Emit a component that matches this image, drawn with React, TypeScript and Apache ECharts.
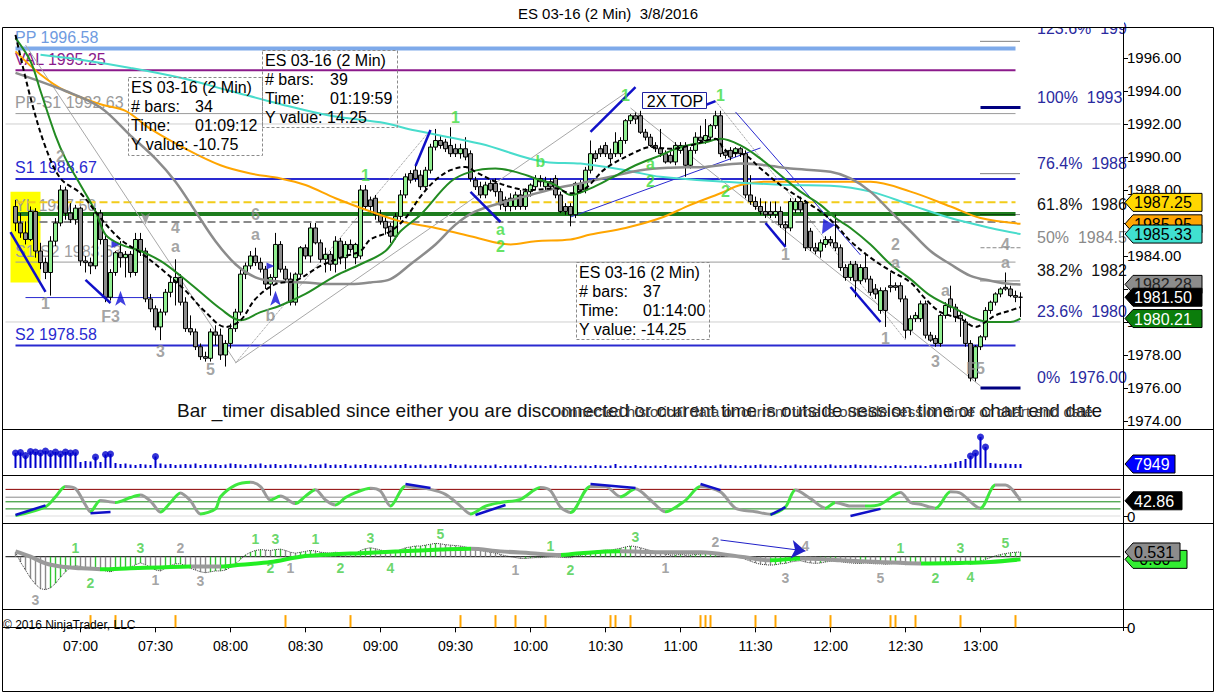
import { useEffect, useRef } from "react";
import * as echarts from "echarts";

const FONT = '"Liberation Sans", Arial, sans-serif';

// 2-minute bars; k = bar offset from the 07:00 bar (k = -13 is 06:34)
const FIRST_BAR = -13;
const CAT_FROM = -15; // 06:30
const CAT_TO = 208; // 13:56

const timeTicks = ["07:00", "07:30", "08:00", "08:30", "09:00", "09:30", "10:00", "10:30", "11:00", "11:30", "12:00", "12:30", "13:00"];
const priceTicks = [1974, 1976, 1978, 1980, 1982, 1984, 1986, 1988, 1990, 1992, 1994, 1996];

// [open, high, low, close]  k = -13 .. 188
const bars = [
  [1987.0, 1987.4, 1985.5, 1986.0], [1986.0, 1986.6, 1985.1, 1985.4], [1985.4, 1986.1, 1984.7, 1985.0], [1985.0, 1987.0, 1984.9, 1986.7],
  [1986.7, 1986.9, 1983.9, 1984.3], [1984.3, 1984.8, 1983.2, 1983.6], [1983.6, 1983.9, 1982.6, 1983.0], [1983.0, 1985.2, 1981.6, 1984.9],
  [1984.9, 1986.3, 1984.6, 1986.0], [1986.0, 1988.3, 1985.8, 1988.0], [1988.0, 1988.2, 1986.2, 1986.6], [1986.6, 1987.2, 1986.0, 1986.2],
  [1986.2, 1987.1, 1985.9, 1986.9],
  [1986.9, 1987.0, 1983.4, 1983.7], [1983.7, 1984.0, 1983.0, 1983.6], [1983.6, 1983.9, 1982.9, 1983.4], [1983.4, 1986.9, 1983.2, 1986.6],
  [1986.6, 1986.8, 1984.7, 1985.0], [1985.0, 1985.3, 1981.2, 1981.5], [1981.5, 1983.2, 1981.3, 1983.0], [1983.0, 1984.3, 1982.8, 1984.2],
  [1984.2, 1984.9, 1983.3, 1983.9], [1983.9, 1984.3, 1982.7, 1984.1], [1984.1, 1984.3, 1982.7, 1983.0], [1983.0, 1985.4, 1982.8, 1985.0],
  [1985.0, 1985.4, 1984.0, 1984.3], [1984.3, 1984.5, 1981.2, 1981.4], [1981.4, 1981.7, 1980.6, 1980.8], [1980.8, 1981.0, 1979.5, 1979.7],
  [1979.7, 1980.8, 1978.9, 1980.6], [1980.6, 1982.0, 1980.4, 1981.8], [1981.8, 1982.8, 1981.5, 1982.4], [1982.4, 1983.8, 1981.0, 1982.7],
  [1982.7, 1982.9, 1981.0, 1981.2], [1981.2, 1981.5, 1979.4, 1979.6], [1979.6, 1980.4, 1979.2, 1979.4], [1979.4, 1979.6, 1978.3, 1978.5],
  [1978.5, 1978.7, 1977.7, 1977.9], [1977.9, 1978.2, 1977.6, 1977.8], [1977.8, 1979.6, 1977.6, 1979.4], [1979.4, 1979.8, 1978.6, 1979.2],
  [1979.2, 1979.6, 1977.7, 1978.0], [1978.0, 1978.9, 1977.3, 1978.7], [1978.7, 1979.9, 1978.4, 1979.6], [1979.6, 1980.8, 1979.4, 1980.6],
  [1980.6, 1983.2, 1980.4, 1982.9], [1982.9, 1983.6, 1982.6, 1983.4], [1983.4, 1984.3, 1983.2, 1984.0], [1984.0, 1984.5, 1983.4, 1983.6],
  [1983.6, 1983.9, 1983.0, 1983.2], [1983.2, 1983.4, 1982.0, 1982.3], [1982.3, 1982.9, 1981.6, 1982.7], [1982.7, 1985.4, 1982.4, 1984.7],
  [1984.7, 1984.9, 1983.0, 1983.2], [1983.2, 1983.4, 1982.4, 1982.6], [1982.6, 1983.0, 1981.0, 1981.2], [1981.2, 1983.0, 1981.0, 1982.9],
  [1982.9, 1984.6, 1982.7, 1984.5], [1984.5, 1984.7, 1983.8, 1984.0], [1984.0, 1986.0, 1983.6, 1985.7], [1985.7, 1986.0, 1984.7, 1984.8],
  [1984.8, 1985.0, 1983.6, 1983.8], [1983.8, 1984.5, 1983.0, 1984.1], [1984.1, 1984.3, 1983.1, 1983.5], [1983.5, 1985.2, 1983.0, 1984.9],
  [1984.9, 1985.1, 1983.5, 1983.9], [1983.9, 1984.9, 1983.2, 1984.7], [1984.7, 1985.0, 1984.2, 1984.4], [1983.9, 1984.8, 1983.5, 1984.7],
  [1984.0, 1988.3, 1983.8, 1988.0], [1988.0, 1988.3, 1986.8, 1987.0], [1987.4, 1987.6, 1986.6, 1987.0], [1987.5, 1987.7, 1986.2, 1986.5],
  [1986.5, 1986.8, 1985.9, 1986.1], [1986.1, 1986.4, 1985.3, 1985.7], [1985.8, 1986.0, 1984.8, 1985.2], [1985.2, 1986.6, 1985.0, 1986.4],
  [1986.4, 1988.0, 1986.2, 1987.7], [1987.7, 1989.0, 1987.5, 1988.8], [1989.0, 1989.2, 1988.4, 1988.6], [1989.2, 1989.5, 1988.5, 1988.7],
  [1988.9, 1989.2, 1988.0, 1988.2], [1988.2, 1989.4, 1988.0, 1989.2], [1989.2, 1990.8, 1989.0, 1990.6], [1990.6, 1991.7, 1990.4, 1991.0],
  [1991.0, 1991.3, 1990.5, 1990.7], [1990.9, 1991.1, 1990.3, 1990.5], [1990.7, 1991.8, 1990.0, 1990.2], [1990.5, 1990.8, 1990.0, 1990.2],
  [1990.2, 1990.8, 1989.9, 1990.5], [1990.5, 1991.2, 1989.8, 1990.0], [1990.2, 1990.4, 1988.5, 1988.7], [1988.6, 1988.8, 1988.0, 1988.2],
  [1988.2, 1988.5, 1987.5, 1987.7], [1987.7, 1988.5, 1987.5, 1988.3], [1988.4, 1988.6, 1987.9, 1988.0], [1988.4, 1988.7, 1987.6, 1987.9],
  [1987.9, 1988.1, 1986.8, 1987.1], [1987.4, 1987.6, 1986.7, 1987.0], [1987.0, 1987.8, 1986.7, 1987.5], [1987.0, 1987.9, 1986.8, 1987.7],
  [1987.7, 1988.0, 1986.8, 1987.0], [1987.0, 1988.1, 1986.8, 1987.9], [1987.9, 1988.4, 1987.6, 1988.3], [1988.2, 1988.9, 1988.0, 1988.7],
  [1988.7, 1988.9, 1988.2, 1988.5], [1988.2, 1988.8, 1987.9, 1988.5], [1988.5, 1988.7, 1988.0, 1988.2], [1988.7, 1988.9, 1987.5, 1987.7],
  [1987.7, 1987.9, 1986.6, 1986.7], [1987.0, 1987.2, 1986.5, 1986.7], [1987.0, 1987.2, 1985.8, 1986.5], [1986.5, 1988.5, 1986.3, 1988.4],
  [1988.4, 1988.6, 1987.8, 1988.0], [1988.0, 1989.4, 1987.8, 1989.2], [1989.2, 1991.0, 1989.0, 1990.2], [1990.2, 1990.4, 1989.7, 1989.9],
  [1990.5, 1990.7, 1990.0, 1990.2], [1990.7, 1990.9, 1990.0, 1990.2], [1990.2, 1990.5, 1989.6, 1989.9], [1990.2, 1991.5, 1990.0, 1990.9],
  [1990.2, 1991.2, 1990.0, 1991.0], [1991.0, 1992.3, 1990.8, 1992.2], [1992.2, 1992.6, 1992.0, 1992.5], [1992.5, 1992.7, 1992.0, 1992.3],
  [1992.5, 1992.8, 1991.4, 1991.5], [1991.5, 1991.7, 1991.0, 1991.2], [1991.2, 1991.4, 1990.6, 1990.7], [1990.7, 1990.9, 1990.3, 1990.5],
  [1990.5, 1991.7, 1990.0, 1990.2], [1990.2, 1990.4, 1989.6, 1989.7], [1990.1, 1990.3, 1989.6, 1989.7], [1989.7, 1990.9, 1989.5, 1990.7],
  [1990.4, 1990.9, 1990.2, 1990.7], [1990.7, 1990.9, 1988.8, 1989.5], [1989.5, 1990.6, 1989.3, 1990.4], [1990.4, 1991.5, 1990.2, 1991.2],
  [1991.2, 1991.9, 1990.9, 1991.0], [1991.0, 1992.3, 1990.8, 1991.3], [1991.2, 1992.0, 1991.0, 1991.9], [1991.9, 1992.8, 1991.7, 1992.5],
  [1992.5, 1992.8, 1990.0, 1990.2], [1990.3, 1990.5, 1989.9, 1990.1], [1990.4, 1990.6, 1989.8, 1990.0], [1990.2, 1990.6, 1990.0, 1990.5],
  [1990.5, 1990.6, 1990.0, 1990.2], [1990.2, 1990.4, 1987.5, 1987.7], [1987.7, 1988.9, 1987.1, 1987.3], [1987.3, 1987.6, 1986.8, 1987.0],
  [1987.0, 1987.5, 1986.5, 1986.7], [1986.7, 1987.3, 1986.3, 1986.5], [1986.7, 1987.3, 1986.3, 1986.5], [1986.5, 1987.3, 1986.3, 1986.7],
  [1986.7, 1987.0, 1985.7, 1985.9], [1985.9, 1986.1, 1984.6, 1985.7], [1985.7, 1987.5, 1985.5, 1987.3], [1986.8, 1987.5, 1986.6, 1987.3],
  [1987.3, 1987.6, 1986.6, 1986.8], [1987.2, 1987.4, 1984.3, 1984.5], [1985.5, 1985.7, 1984.3, 1984.5], [1984.5, 1984.8, 1984.1, 1984.3],
  [1984.3, 1985.0, 1983.9, 1984.8], [1984.7, 1985.2, 1984.5, 1985.0], [1985.0, 1985.2, 1984.6, 1984.8], [1984.8, 1986.5, 1984.3, 1984.5],
  [1984.5, 1984.7, 1983.1, 1983.3], [1983.3, 1983.5, 1982.5, 1982.7], [1982.7, 1983.7, 1982.5, 1983.5], [1983.5, 1983.7, 1981.5, 1982.5],
  [1982.5, 1983.5, 1982.3, 1983.3], [1983.3, 1984.2, 1982.4, 1982.6], [1982.6, 1982.8, 1981.6, 1981.8], [1982.0, 1982.3, 1981.4, 1981.7],
  [1980.7, 1982.1, 1980.5, 1981.9], [1981.9, 1982.1, 1979.7, 1980.7], [1982.2, 1983.0, 1981.8, 1982.1], [1982.2, 1982.4, 1981.9, 1982.1],
  [1982.2, 1982.4, 1981.2, 1981.4], [1981.4, 1981.6, 1979.0, 1979.5], [1979.5, 1980.4, 1979.2, 1980.2], [1980.2, 1980.6, 1980.0, 1980.4],
  [1980.2, 1981.3, 1980.0, 1981.1], [1981.1, 1981.3, 1979.0, 1979.2], [1979.2, 1979.4, 1978.8, 1978.9], [1979.0, 1979.2, 1978.5, 1978.7],
  [1978.7, 1980.5, 1978.5, 1980.4], [1980.4, 1981.2, 1980.2, 1981.0], [1981.4, 1982.2, 1980.6, 1980.9], [1980.9, 1981.1, 1980.0, 1980.3],
  [1980.4, 1980.6, 1979.1, 1980.2], [1980.0, 1980.2, 1978.5, 1978.7], [1978.7, 1978.9, 1976.4, 1976.6], [1976.6, 1978.6, 1976.4, 1978.5],
  [1978.5, 1979.2, 1978.3, 1979.1], [1979.1, 1980.9, 1978.9, 1980.7], [1980.7, 1981.3, 1980.5, 1981.2], [1981.2, 1981.8, 1981.0, 1981.7],
  [1981.7, 1982.1, 1981.5, 1982.0], [1982.1, 1983.0, 1981.9, 1982.0], [1982.0, 1982.2, 1981.5, 1981.6], [1981.6, 1981.9, 1981.2, 1981.5],
  [1981.5, 1981.8, 1980.3, 1981.5],
];

// volume in thousands, k = -13 .. 188
const volumeK = [
  30, 31, 25, 33, 32, 30, 34, 29, 32, 28, 32, 30, 31,
  12, 14, 13, 22, 12, 27, 28, 10, 8, 9, 7,
  6, 8, 7, 6, 23, 9, 7, 8, 6, 7,
  8, 7, 9, 6, 8, 7, 8, 6, 7, 9, 8, 7, 6, 8, 7, 9, 6, 7, 8, 6, 7, 8, 6, 7, 5, 8, 6, 7, 9, 6, 7, 6, 8, 5, 7, 6, 8, 6, 7, 5,
  6, 5, 7, 6, 8, 5, 6, 7, 5, 6, 7, 6, 5, 8, 6, 5, 7, 5, 6, 5, 6, 5, 7, 4, 6, 5, 6, 5, 7, 4, 6, 5, 4, 6, 5, 4, 6, 5, 4, 5,
  5, 4, 6, 5, 4, 5, 8, 4, 5, 4, 6, 4, 5, 4, 5, 4, 6, 4, 5, 4, 5, 4, 6, 4, 5, 4, 5, 7, 5, 6, 5, 4, 6, 5, 6, 7, 5, 6, 5, 4,
  6, 5, 7, 5, 6, 5, 6, 5, 6, 7, 5, 6, 5, 6, 7, 6, 5, 6, 5, 4, 5, 4, 6, 5, 4, 5, 6, 5, 4, 6, 7, 6, 8, 9,
  12, 14, 18, 24, 30, 62, 42, 10, 9, 8, 9, 8, 8, 7.949,
];

// oscillator histogram, k = -13 .. 188
const macdHist = [
  0.5, -0.6, -1.5, -2.4, -3.1, -3.6, -3.7, -3.5, -3.0, -2.3, -1.7, -1.2, -1.0,
  -1.1, -1.3, -1.4, -1.2, -1.3, -1.6, -1.7, -1.5, -1.4, -1.3,
  -1.2, -0.9, -0.7, -0.9, -1.2, -1.5, -1.6, -1.3, -1.0, -0.8,
  -0.8, -1.0, -1.3, -1.5, -1.7, -1.8, -1.7, -1.6, -1.6, -1.5,
  -1.2, -0.8, -0.3, 0.2, 0.5, 0.7, 0.8, 0.75, 0.7, 0.8,
  0.85, 0.7, 0.5, 0.4, 0.5, 0.6, 0.7, 0.65, 0.5, 0.45,
  0.4, 0.5, 0.45, 0.4, 0.35, 0.35, 0.7, 0.9, 1.0, 0.9,
  0.75, 0.6, 0.55, 0.6, 0.8, 1.0, 1.1, 1.2, 1.2, 1.3,
  1.4, 1.5, 1.45, 1.35, 1.3, 1.25, 1.2, 1.1, 0.95, 0.8,
  0.7, 0.6, 0.5, 0.4, 0.25, 0.1, 0.0, -0.1, -0.2, -0.2,
  -0.15, -0.1, -0.1, -0.05, 0.0, 0.0, -0.05, -0.1, -0.1, 0.05,
  0.15, 0.3, 0.5, 0.6, 0.7, 0.75, 0.75, 0.85, 0.95, 1.1,
  1.2, 1.15, 1.0, 0.85, 0.7, 0.55, 0.45, 0.3, 0.2, 0.2,
  0.25, 0.2, 0.2, 0.25, 0.3, 0.35, 0.4, 0.45, 0.3, 0.2,
  0.1, 0.05, 0.0, -0.3, -0.5, -0.7, -0.85, -0.9, -0.95, -0.9,
  -0.8, -0.75, -0.6, -0.5, -0.45, -0.6, -0.7, -0.75, -0.7, -0.6,
  -0.5, -0.45, -0.55, -0.65, -0.7, -0.75, -0.75, -0.7, -0.75, -0.8,
  -0.8, -0.85, -0.8, -0.75, -0.8, -0.9, -0.85, -0.75, -0.65, -0.7,
  -0.8, -0.85, -0.7, -0.55, -0.5, -0.55, -0.6, -0.7, -0.85, -0.7,
  -0.5, -0.3, -0.1, 0.1, 0.25, 0.35, 0.45, 0.5, 0.531,
];

// [k, value] readings of the indicator lines
const macdSignal = [[-13, 0.6], [-10, 0.0], [-7, -0.75], [-4, -1.1], [0, -1.3], [4, -1.4], [10, -1.3], [16, -1.2], [22, -1.1], [28, -1.1], [32, -0.9], [38, -0.6], [44, 0.0], [50, 0.25], [56, 0.4], [64, 0.6], [72, 0.8], [78, 0.9], [84, 0.6], [90, 0.4], [96, 0.2], [100, 0.4], [108, 0.6], [116, 0.5], [124, 0.5], [132, 0.0], [138, -0.4], [144, -0.2], [152, -0.4], [160, -0.6], [168, -0.75], [176, -0.7], [182, -0.6], [188, -0.3]];
const stoch = [[-13, 1], [-7, 26], [-5, 54], [-3, 83], [-1, 77], [1, 31], [2, 12], [4, 44], [7, 38], [10, 52], [12, 59], [14, 42], [16, 11], [18, 38], [20, 65], [22, 43], [24, 6], [27, 20], [28, 54], [31, 87], [34, 95], [36, 83], [38, 45], [40, 56], [43, 35], [45, 56], [47, 74], [49, 45], [51, 31], [53, 52], [55, 66], [58, 78], [60, 70], [62, 28], [65, 84], [67, 80], [70, 75], [73, 61], [76, 28], [78, 6], [81, 28], [84, 38], [88, 47], [92, 80], [94, 71], [96, 25], [98, 10], [102, 83], [105, 83], [108, 54], [111, 77], [114, 45], [117, 12], [121, 44], [124, 83], [128, 68], [131, 22], [135, 12], [138, 5], [141, 26], [143, 73], [146, 49], [149, 22], [151, 38], [154, 28], [157, 28], [160, 33], [164, 66], [166, 38], [168, 33], [171, 22], [174, 68], [176, 64], [179, 28], [180, 22], [183, 87], [185, 87], [188, 42.86]];
const fastMa = [[-13, 1997.4], [-10, 1993.6], [-7, 1990.6], [-4, 1988.7], [0, 1987.8], [4, 1986.3], [8, 1985.0], [12, 1984.2], [17, 1983.0], [21, 1981.9], [25, 1980.6], [29, 1979.7], [32, 1980.1], [35, 1981.4], [39, 1982.3], [43, 1982.5], [48, 1983.4], [53, 1984.0], [56, 1984.3], [58, 1985.0], [62, 1985.5], [65, 1986.3], [68, 1987.6], [71, 1988.6], [74, 1989.2], [77, 1989.4], [79, 1989.1], [83, 1988.5], [87, 1988.1], [90, 1988.0], [95, 1988.1], [98, 1987.8], [101, 1988.1], [105, 1989.3], [111, 1990.3], [114, 1990.6], [118, 1990.5], [122, 1990.7], [127, 1991.1], [129, 1990.4], [133, 1990.1], [136, 1989.3], [140, 1988.3], [144, 1987.5], [148, 1986.7], [151, 1985.9], [154, 1984.9], [158, 1983.9], [162, 1983.1], [166, 1982.4], [169, 1981.4], [172, 1980.6], [176, 1980.2], [179, 1979.7], [181, 1980.0], [183, 1980.4], [186, 1980.7], [188, 1980.9]];
const slowMa = [[-13, 1997.2], [-10, 1995.8], [-8, 1994.0], [-5, 1991.3], [-3, 1989.9], [0, 1988.3], [3, 1986.7], [5, 1985.3], [8, 1984.7], [12, 1984.3], [16, 1983.7], [20, 1982.8], [24, 1981.8], [28, 1980.8], [32, 1980.1], [36, 1980.6], [40, 1981.0], [45, 1981.7], [51, 1982.8], [56, 1983.5], [61, 1984.3], [64, 1985.5], [68, 1986.5], [74, 1988.5], [78, 1989.1], [83, 1989.3], [87, 1989.1], [91, 1988.7], [95, 1988.3], [98, 1987.7], [102, 1988.1], [106, 1988.7], [111, 1989.5], [116, 1990.1], [120, 1990.6], [125, 1990.9], [128, 1991.1], [132, 1990.7], [136, 1989.9], [140, 1988.9], [144, 1987.9], [148, 1987.1], [151, 1986.3], [154, 1985.7], [158, 1984.7], [162, 1983.5], [166, 1982.6], [170, 1981.6], [175, 1980.8], [179, 1980.2], [182, 1980.0], [186, 1980.0], [188, 1980.21]];
const smaLine = [[-13, 1995.1], [-3, 1994.0], [4, 1993.0], [10, 1991.3], [15, 1989.9], [19, 1988.5], [23, 1986.7], [27, 1984.9], [31, 1983.5], [35, 1982.7], [38, 1982.5], [45, 1982.4], [50, 1982.3], [54, 1982.3], [58, 1982.4], [62, 1982.6], [66, 1983.5], [71, 1984.7], [75, 1985.9], [79, 1986.7], [85, 1987.3], [90, 1987.7], [95, 1988.1], [100, 1988.4], [106, 1988.8], [112, 1989.2], [118, 1989.35], [125, 1989.4], [132, 1989.6], [137, 1989.5], [142, 1989.3], [150, 1989.1], [154, 1988.7], [158, 1987.9], [162, 1986.7], [166, 1985.5], [170, 1984.3], [174, 1983.5], [178, 1982.8], [182, 1982.5], [186, 1982.3], [188, 1982.28]];
const cyanMa = [[-8, 1996.2], [0, 1995.9], [10, 1995.4], [20, 1994.8], [30, 1994.0], [40, 1993.2], [50, 1992.5], [60, 1992.1], [67, 1991.6], [80, 1990.8], [93, 1989.7], [100, 1989.6], [109, 1989.2], [116, 1988.8], [129, 1988.5], [142, 1988.3], [150, 1988.25], [158, 1987.9], [166, 1987.1], [174, 1986.3], [182, 1985.7], [188, 1985.33]];
const orangeMa = [[-13, 1996.4], [-8, 1995.0], [-3, 1994.0], [4, 1993.2], [9, 1992.8], [14, 1991.7], [21, 1990.5], [28, 1989.5], [34, 1989.0], [40, 1988.7], [45, 1988.3], [51, 1987.5], [58, 1986.7], [64, 1986.1], [71, 1985.7], [78, 1985.2], [86, 1984.7], [91, 1984.9], [98, 1985.0], [102, 1985.3], [109, 1985.7], [116, 1986.3], [122, 1987.1], [128, 1987.8], [132, 1988.3], [137, 1988.5], [144, 1988.5], [152, 1988.5], [158, 1988.5], [166, 1987.9], [174, 1987.0], [180, 1986.3], [188, 1985.95]];

// bars carrying an orange signal tick in the bottom panel
const signalBars = [2, 7, 19, 41, 54, 76, 83, 87, 93, 106, 107, 110, 124, 125, 126, 135, 139, 150, 162, 163, 167, 176, 187];

const levels = [
  { label: "PP 1996.58", value: 1996.58, color: "#7eaaea", text: "#6f9be0", width: 4, type: "solid" },
  { label: "VAL 1995.25", value: 1995.25, color: "#8b1a8b", text: "#8b1a8b", width: 2, type: "solid" },
  { label: "PP-S1 1992.63", value: 1992.63, color: "#9a9a9a", text: "#9a9a9a", width: 1, type: "solid" },
  { label: "S1 1988.67", value: 1988.67, color: "#2a2ad0", text: "#2a2ad0", width: 2, type: "solid" },
  { label: "YL 1987.50", value: 1987.25, color: "#f2cc1a", text: "#9a9a9a", width: 2, type: "dashed" },
  { label: "", value: 1986.55, color: "#1e7d1e", text: "#1e7d1e", width: 4, type: "solid" },
  { label: "", value: 1986.06, color: "#8a8a8a", text: "#8a8a8a", width: 2, type: "dashed" },
  { label: "S1-S2 1983.63", value: 1983.63, color: "#9a9a9a", text: "#a0a0a0", width: 1, type: "solid" },
  { label: "S2 1978.58", value: 1978.58, color: "#2a2ad0", text: "#2a2ad0", width: 2, type: "solid" },
];
const gridPrices = [1992.0, 1980.0];
const fibs = [
  { text: "123.6%  199", value: 1997.01, color: "#2a2aa0", line: "#000", width: 1, type: "dotted" },
  { text: "100%  1993", value: 1993.0, color: "#2a2aa0", line: "#000080", width: 3, type: "solid" },
  { text: "76.4%  1988", value: 1988.99, color: "#2a2aa0", line: "#000", width: 1, type: "dotted" },
  { text: "61.8%  1986", value: 1986.51, color: "#111", line: "#000", width: 1, type: "dotted" },
  { text: "50%  1984.5", value: 1984.5, color: "#8a8a8a", line: "#888", width: 1, type: "dashed" },
  { text: "38.2%  1982", value: 1982.49, color: "#111", line: "#000", width: 1, type: "dotted" },
  { text: "23.6%  1980", value: 1980.01, color: "#2a2aa0", line: "#2020c0", width: 1, type: "dotted" },
  { text: "0%  1976.00", value: 1976.0, color: "#2a2aa0", line: "#000080", width: 3, type: "solid" },
];
const priceFlags = [
  { value: 1987.25, fill: "#ffd700", text: "#000" },
  { value: 1985.95, fill: "#ffa500", text: "#000" },
  { value: 1985.33, fill: "#40e0d0", text: "#000" },
  { value: 1982.28, fill: "#8c8c8c", text: "#222" },
  { value: 1981.5, fill: "#000000", text: "#fff" },
  { value: 1980.21, fill: "#0b7d0b", text: "#fff" },
];
// trend annotations: [k1, price1, k2, price2]
const blueThick = [[-14.5, 1985.45, -6.7, 1981.82], [1.3, 1982.55, 6.3, 1981.15], [66.5, 1989.45, 70.3, 1991.64], [78.3, 1987.88, 83.9, 1986.06], [102.3, 1991.52, 110.9, 1994.24], [123.5, 1993.03, 127.3, 1993.39], [137.3, 1986.0, 141.3, 1984.55], [153.7, 1982.12, 159.9, 1980.0]];
const blueThin = [[-11, 1981.48, 17, 1981.48], [97.9, 1986.36, 135.9, 1990.55], [131.3, 1992.73, 156, 1984.06]];
const greyThin = [[-10.7, 1996.79, 30.5, 1977.58], [30.9, 1977.52, 108.9, 1993.88], [109.5, 1992.97, 179.9, 1976.12]];
const greyDotted = [[30.9, 1977.52, 70.3, 1991.64], [127.3, 1993.39, 164.9, 1978.91]];
const stochDivergence = [[-13, 3, -7, 30], [1.5, 8, 6.3, 11], [65.3, 90, 70.3, 79], [78.5, 3, 84.5, 31], [102, 90, 111, 79], [123.5, 90, 127.5, 73], [137.5, 3, 141.3, 25], [153.9, 0, 160.3, 20]];
const stochLevels = [{ v: 75, c: "#8b0000" }, { v: 53, c: "#8a8a8a" }, { v: 40, c: "#118811" }, { v: 20, c: "#118811" }, { v: 0, c: "#dddddd" }];

const waveGrey = [[-4.1, 1990.0, "2"], [-6.9, 1981.15, "1"], [6.3, 1980.36, "F3"], [19.1, 1985.7, "4"], [19.1, 1984.6, "a"], [16.1, 1978.2, "3"], [26.1, 1977.1, "5"], [35.1, 1986.5, "6"], [35.1, 1985.3, "a"], [38.3, 1980.4, "b"], [141.1, 1984.1, "1"], [163.3, 1984.7, "2"], [163.3, 1983.6, "a"], [173.1, 1981.9, "a"], [161.1, 1979.0, "1"], [171.3, 1977.6, "3"], [178.9, 1977.2, "F5"], [185.1, 1984.7, "4"], [185.1, 1983.6, "a"]];
const waveGreen = [[74.5, 1992.4, "1"], [57.3, 1988.85, "1"], [92.1, 1989.7, "b"], [84.1, 1985.6, "a"], [84.1, 1984.6, "2"], [109.1, 1993.75, "1"], [128.3, 1993.7, "1"], [114.1, 1989.6, "a"], [114.1, 1988.5, "2"], [128.9, 1987.9, "2"]];
const macdGreenLabels = [[-0.7, 0.98, "1"], [2.3, -2.96, "2"], [12.3, 0.98, "3"], [35.3, 1.99, "1"], [39.3, 1.99, "3"], [38.3, -1.27, "2"], [47.3, 1.99, "1"], [52.3, -1.27, "2"], [58.3, 2.1, "3"], [62.3, -1.27, "4"], [72.3, 2.55, "5"], [94.3, 1.2, "1"], [98.3, -1.49, "2"], [111.3, 2.21, "3"], [163.5, 0.98, "1"], [171.3, -2.39, "2"], [176.3, 0.98, "3"], [178.3, -2.28, "4"], [185.3, 1.54, "5"]];
const macdGreyLabels = [[20.3, 0.98, "2"], [15.3, -2.6, "1"], [24.3, -2.73, "3"], [-8.6, -4.87, "3"], [42.3, -1.27, "1"], [87.3, -1.49, "1"], [117.3, -1.27, "1"], [127.3, 1.65, "2"], [144.5, 1.2, "4"], [141.3, -2.39, "3"], [160.3, -2.39, "5"]];

const pad = (n: number) => (n < 10 ? "0" + n : "" + n);
function timeLabel(k: number) {
  const m = 420 + 2 * k;
  return pad(Math.floor(m / 60)) + ":" + pad(m % 60);
}
const categories: string[] = [];
for (let k = CAT_FROM; k <= CAT_TO; k++) categories.push(timeLabel(k));
const ix = (k: number) => k - CAT_FROM;
const barAt = (i: number) => bars[i + CAT_FROM - FIRST_BAR];
const perBar = (arr: number[], i: number) => {
  const j = i + CAT_FROM - FIRST_BAR;
  return j >= 0 && j < arr.length ? arr[j] : undefined;
};

function buildOption() {
  const series: any[] = [];
  const visualMap: any[] = [];
  const seg = (pts: number[], color: string, width: number, type: any, z: number, grid = 0) => {
    series.push({
      type: "line", xAxisIndex: grid, yAxisIndex: grid, silent: true, animation: false, z,
      showSymbol: false, symbol: "none",
      data: [[ix(pts[0]), pts[1]], [ix(pts[2]), pts[3]]],
      lineStyle: { color, width, type },
    });
  };

  levels.forEach((l) => seg([-13.5, l.value, 187, l.value], l.color, l.width, l.type, 1));
  gridPrices.forEach((p) => seg([CAT_FROM, p, CAT_TO, p], "#cfcfcf", 1, "solid", 1));
  fibs.forEach((f) => seg([179.5, f.value, 188.3, f.value], f.line, f.width, f.type, 1));
  greyThin.forEach((s) => seg(s, "#a8a8a8", 1, "solid", 2));
  greyDotted.forEach((s) => seg(s, "#8a8a8a", 1, "dotted", 2));
  blueThin.forEach((s) => seg(s, "#2a2ad0", 1, "solid", 2));

  series.push({
    type: "candlestick", xAxisIndex: 0, yAxisIndex: 0, z: 3, barWidth: 4,
    data: categories.map((_, i) => {
      const b = barAt(i);
      return b ? [b[0], b[3], b[2], b[1]] : "-";
    }),
    itemStyle: { color: "#90ee90", color0: "#8c8c8c", borderColor: "#000", borderColor0: "#000", borderWidth: 1 },
    markArea: {
      silent: true, z: 0,
      itemStyle: { color: "#ffff00", opacity: 1 },
      data: [[{ coord: [ix(-14), 1987.9] }, { coord: [ix(-8), 1982.4] }]],
    },
  });

  const maLine = (pts: number[][], color: string, width: number, type: any, z: number) => {
    series.push({
      type: "line", xAxisIndex: 0, yAxisIndex: 0, silent: true, z, smooth: 0.35, showSymbol: false, symbol: "none",
      data: pts.map((p) => [ix(p[0]), p[1]]),
      lineStyle: { color, width, type },
    });
    return series.length - 1;
  };
  maLine(orangeMa, "#ffa500", 2, "solid", 4);
  maLine(cyanMa, "#48dccc", 2, "solid", 4);
  const smaIdx = maLine(smaLine, "#8c8c8c", 2.5, "solid", 4);
  maLine(slowMa, "#228b22", 2, "solid", 5);
  maLine(fastMa, "#000", 2, [5, 3], 6);

  const smaSpans = [[50, 54, "#111"], [54, 60, "#5cc05c"], [60, 62, "#111"], [62, 115, "#5cc05c"], [115, 126, "#111"], [126, 135, "#5cc05c"], [135, 139, "#111"]];
  visualMap.push({
    type: "piecewise", show: false, dimension: 0, seriesIndex: smaIdx,
    pieces: smaSpans.map((s) => ({ gte: ix(s[0] as number), lte: ix(s[1] as number), color: s[2] })),
    outOfRange: { color: "#8c8c8c" },
  });

  blueThick.forEach((s) => seg(s, "#1010c8", 2.5, "solid", 7));

  series.push({
    type: "scatter", xAxisIndex: 0, yAxisIndex: 0, z: 8, silent: true,
    data: [
      { value: [ix(7.5), 1981.9], symbol: "arrow", symbolSize: [8, 15] },
      { value: [ix(39.1), 1981.9], symbol: "arrow", symbolSize: [8, 15] },
      { value: [ix(7.3), 1984.7], symbol: "triangle", symbolSize: [7, 8], symbolRotate: -90 },
      { value: [ix(38.1), 1983.4], symbol: "triangle", symbolSize: [7, 8], symbolRotate: -90 },
      { value: [ix(148.9), 1985.7], symbol: "triangle", symbolSize: [13, 14], symbolRotate: 150 },
    ],
    itemStyle: { color: "#1010d8" },
  });
  series.push({
    type: "scatter", xAxisIndex: 0, yAxisIndex: 0, z: 8, silent: true,
    data: [{ value: [ix(12.5), 1985.9], symbol: "arrow", symbolSize: [7, 12], symbolRotate: 180 }],
    itemStyle: { color: "#8c8c8c" },
  });

  const labelSeries = (items: any[], color: string, grid: number, size: number) => {
    series.push({
      type: "scatter", xAxisIndex: grid, yAxisIndex: grid, z: 9, silent: true, symbolSize: 1,
      itemStyle: { color: "rgba(0,0,0,0)" },
      data: items.map((w) => ({ name: w[2], value: [ix(w[0]), w[1]] })),
      label: { show: true, position: "inside", formatter: "{b}", color, fontSize: size, fontWeight: "bold", fontFamily: FONT },
    });
  };
  labelSeries(waveGrey, "#8c8c8c", 0, 16);
  labelSeries(waveGreen, "#3cdc3c", 0, 16);

  // volume
  series.push({
    type: "bar", xAxisIndex: 1, yAxisIndex: 1, barWidth: 2, silent: true,
    data: categories.map((_, i) => perBar(volumeK, i) ?? "-"),
    itemStyle: { color: "#0000cc" },
  });
  series.push({
    type: "scatter", xAxisIndex: 1, yAxisIndex: 1, symbolSize: 7, silent: true,
    data: categories.map((_, i) => {
      const v = perBar(volumeK, i);
      return v !== undefined && v >= 20 ? [i, v] : null;
    }).filter(Boolean),
    itemStyle: { color: "#0000cc" },
  });

  // stochastic
  stochLevels.forEach((l) => seg([CAT_FROM, l.v, CAT_TO, l.v], l.c, 1, "solid", 1, 2));
  series.push({
    type: "line", xAxisIndex: 2, yAxisIndex: 2, z: 4, smooth: 0.3, showSymbol: false, symbol: "none", silent: true,
    data: stoch.map((p) => [ix(p[0]), p[1]]),
    lineStyle: { width: 3 },
  });
  const stochIdx = series.length - 1;
  const rising = (pts: number[][], color: string) => {
    const out: any[] = [];
    for (let i = 0; i < pts.length - 1; i++) {
      if (pts[i + 1][1] > pts[i][1]) out.push({ gte: ix(pts[i][0]), lte: ix(pts[i + 1][0]), color });
    }
    return out;
  };
  visualMap.push({ type: "piecewise", show: false, dimension: 0, seriesIndex: stochIdx, pieces: rising(stoch, "#3ee83e"), outOfRange: { color: "#9a9a9a" } });
  stochDivergence.forEach((s) => seg(s, "#1010c8", 2.5, "solid", 6, 2));

  // oscillator
  seg([CAT_FROM, 0, CAT_TO, 0], "#000", 1, "solid", 1, 3);
  series.push({
    type: "bar", xAxisIndex: 3, yAxisIndex: 3, barWidth: 1.4, silent: true, z: 2,
    data: categories.map((_, i) => {
      const v = perBar(macdHist, i);
      if (v === undefined) return "-";
      const prev = perBar(macdHist, i - 1);
      const up = prev !== undefined ? v >= prev : false;
      return { value: v, itemStyle: { color: up ? "#33c433" : "#8a8a8a" } };
    }),
  });
  series.push({
    type: "line", xAxisIndex: 3, yAxisIndex: 3, z: 3, showSymbol: false, symbol: "none", silent: true,
    data: categories.map((_, i) => perBar(macdHist, i) ?? "-"),
    lineStyle: { color: "#333", width: 1, type: "dotted" },
  });
  series.push({
    type: "line", xAxisIndex: 3, yAxisIndex: 3, z: 4, smooth: 0.35, showSymbol: false, symbol: "none", silent: true,
    data: macdSignal.map((p) => [ix(p[0]), p[1]]),
    lineStyle: { width: 4 },
    markLine: {
      silent: true, symbol: ["none", "arrow"], symbolSize: 14, label: { show: false },
      lineStyle: { color: "#2020c8", width: 1, type: "solid" },
      data: [[{ coord: [ix(127.5), 1.88] }, { coord: [ix(144.9), 0.64] }]],
    },
  });
  visualMap.push({ type: "piecewise", show: false, dimension: 0, seriesIndex: series.length - 1, pieces: rising(macdSignal, "#22ee22"), outOfRange: { color: "#9a9a9a" } });
  labelSeries(macdGreenLabels, "#44cc44", 3, 14);
  labelSeries(macdGreyLabels, "#8c8c8c", 3, 14);

  // bottom signal ticks
  series.push({
    type: "bar", xAxisIndex: 4, yAxisIndex: 4, barWidth: 2, silent: true,
    data: categories.map((_, i) => (signalBars.includes(i + CAT_FROM) ? 1 : "-")),
    itemStyle: { color: "#ffa500" },
  });

  const grids = [
    { top: 28, height: 401 },
    { top: 430, height: 38 },
    { top: 475, height: 48 },
    { top: 523, height: 86 },
    { top: 609, height: 22 },
  ].map((g) => ({ left: 3, right: 93, top: g.top, height: g.height, containLabel: false }));

  const isTick = (_: number, v: string) => timeTicks.includes(v);
  const xAxis = grids.map((_, gi) => ({
    type: "category", gridIndex: gi, data: categories, boundaryGap: true,
    show: gi === 4,
    axisLine: { show: gi === 4, lineStyle: { color: "#000", width: 1 } },
    axisTick: { show: gi === 4, interval: isTick, alignWithLabel: true, length: 5, lineStyle: { color: "#000" } },
    axisLabel: { show: gi === 4, interval: isTick, color: "#000", fontSize: 14, fontFamily: FONT, margin: 8 },
    splitLine: { show: false },
  }));

  const yBase = (gi: number, min: number, max: number, labels: number[], fmt: (v: number) => string) => ({
    type: "value", gridIndex: gi, position: "right", min, max, scale: true,
    axisLine: { show: false },
    axisTick: { show: labels.length > 0, customValues: labels, length: 5, lineStyle: { color: "#000" } },
    axisLabel: { show: labels.length > 0, customValues: labels, formatter: fmt, color: "#000", fontSize: 15, fontFamily: FONT, margin: 4 },
    splitLine: { show: false },
  });
  const yAxis = [
    yBase(0, 1973.515, 1997.818, priceTicks, (v) => v.toFixed(2)),
    yBase(1, 0, 76, [], (v) => String(v)),
    yBase(2, -19.7, 115.5, [0], (v) => String(v)),
    yBase(3, -5.88, 3.79, [], (v) => String(v)),
    yBase(4, -0.3, 1.5, [0], (v) => String(v)),
  ];

  return { animation: false, backgroundColor: "#fff", grid: grids, xAxis, yAxis, series, visualMap };
}

function buildGraphics(chart: any) {
  const py = (axis: number, v: number) => chart.convertToPixel({ yAxisIndex: axis }, v) as number;
  const g: any[] = [];
  const text = (x: number, y: number, t: string, o: any = {}) => ({
    type: "text", z: o.z ?? 50, silent: true,
    style: {
      text: t, x, y, fill: o.color ?? "#000",
      font: `${o.weight ?? "normal"} ${o.size ?? 16}px ${FONT}`,
      align: o.align ?? "left", verticalAlign: "middle", textAlign: o.align ?? "left", textVerticalAlign: "middle",
    },
  });
  const line = (x1: number, y1: number, x2: number, y2: number, o: any = {}) => ({
    type: "line", z: o.z ?? 80, silent: true, shape: { x1, y1, x2, y2 },
    style: { stroke: o.color ?? "#000", lineWidth: o.width ?? 1, lineDash: o.dash ?? null },
  });

  // level captions (under the price bars)
  levels.forEach((l) => {
    if (!l.label) return;
    const y = py(0, l.value);
    g.push(text(15, l.label.startsWith("YL") ? y + 3 : y - 11, l.label, { color: l.text, z: 0, size: 16 }));
  });
  // fib captions
  fibs.forEach((f, i) => g.push(text(1037, py(0, f.value) - (i === 0 ? 13 : 10), f.text, { color: f.color, size: 16 })));
  g.push({ type: "rect", z: 70, silent: true, shape: { x: 1028, y: 0, width: 96, height: 27 }, style: { fill: "#fff" } });

  // title and notes
  g.push(text(608, 13, "ES 03-16 (2 Min)  3/8/2016", { align: "center", size: 15, z: 90 }));
  g.push(text(177, 410, "Bar _timer disabled since either you are disconnected or current time is outside session time or chart end date", { size: 19, color: "#111" }));
  g.push(text(550, 411, "Connected historical data or current time is outside session time or chart end date", { size: 15, color: "#444" }));
  g.push(text(3, 625, "\u00a9 2016 NinjaTrader, LLC", { size: 12, color: "#000" }));

  // ruler boxes
  const box = (x: number, y: number, w: number, h: number, valX: number, bars: string, time: string, yv: string) => {
    g.push({ type: "rect", z: 40, silent: true, shape: { x: x + 0.5, y: y + 0.5, width: w, height: h }, style: { fill: "none", stroke: "#8a8a8a", lineWidth: 1, lineDash: [3, 2] } });
    g.push(text(x + 3, y + 10, "ES 03-16 (2 Min)"));
    g.push(text(x + 3, y + 29, "# bars:"));
    g.push(text(valX, y + 29, bars));
    g.push(text(x + 3, y + 48, "Time:"));
    g.push(text(valX, y + 48, time));
    g.push(text(x + 3, y + 67, "Y value: " + yv));
  };
  box(128, 77, 134, 78, 195, "34", "01:09:12", "-10.75");
  box(262, 50, 135, 77, 330, "39", "01:19:59", "14.25");
  box(576, 262, 133, 77, 643, "37", "01:14:00", "-14.25");
  g.push({ type: "rect", z: 40, silent: true, shape: { x: 642.5, y: 92.5, width: 64, height: 16 }, style: { fill: "#fff", stroke: "#2020a0", lineWidth: 1 } });
  g.push(text(675, 101, "2X TOP", { align: "center", z: 41 }));

  // value flags
  const flag = (y: number, w: number, fill: string, color: string, t: string, z: number) => {
    const x0 = 1125;
    g.push({ type: "polygon", z, silent: true, shape: { points: [[x0, y], [x0 + 8, y - 9], [x0 + w, y - 9], [x0 + w, y + 9], [x0 + 8, y + 9]] }, style: { fill, stroke: "#000", lineWidth: 1 } });
    g.push(text(x0 + 9, y + 0.5, t, { color, size: 16, z: z + 1 }));
  };
  priceFlags.forEach((f, i) => flag(py(0, f.value), 77, f.fill, f.text, f.value.toFixed(2), 60 + i * 2));
  flag(py(1, 7.949), 50, "#0000ff", "#fff", "7949", 60);
  flag(py(2, 42.86), 57, "#000", "#fff", "42.86", 60);
  flag(py(3, -0.3), 62, "#33ee33", "#000", "-0.30", 60);
  flag(py(3, 0.531), 55, "#8c8c8c", "#000", "0.531", 62);

  // frame
  g.push({ type: "rect", z: 80, silent: true, shape: { x: 2.5, y: 27.5, width: 1211, height: 664 }, style: { fill: "none", stroke: "#000", lineWidth: 1 } });
  [429.5, 475.5, 523.5, 609.5].forEach((y) => g.push(line(2.5, y, 1213.5, y)));
  g.push(line(1123.5, 27.5, 1123.5, 631));
  return g;
}

export default function App() {
  const ref = useRef<HTMLDivElement>(null);
  useEffect(() => {
    const el = ref.current;
    if (!el) return;
    const chart = echarts.init(el, null, { renderer: "svg", width: 1216, height: 695 });
    chart.setOption(buildOption() as any);
    chart.setOption({ graphic: buildGraphics(chart) } as any);
    return () => chart.dispose();
  }, []);
  return <div ref={ref} style={{ position: "fixed", left: 0, top: 0, width: 1216, height: 695, background: "#fff" }} />;
}
